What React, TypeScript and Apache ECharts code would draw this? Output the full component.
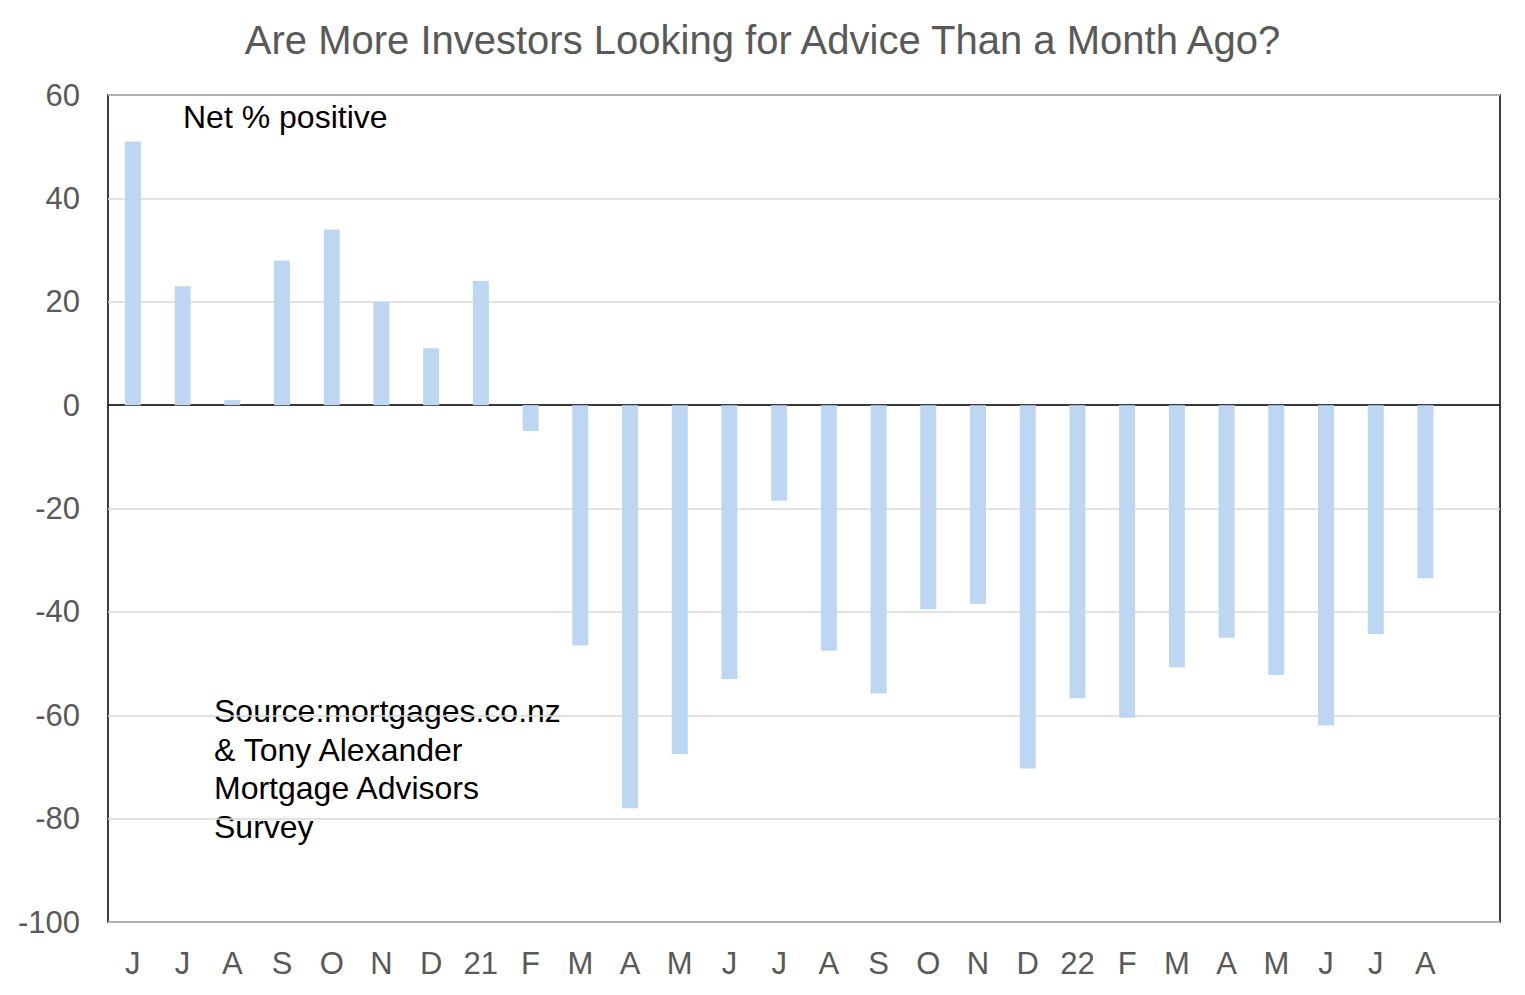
import React, { useEffect, useRef } from "react";
import * as echarts from "echarts";

const categories = ["J", "J", "A", "S", "O", "N", "D", "21", "F", "M", "A", "M", "J", "J", "A", "S", "O", "N", "D", "22", "F", "M", "A", "M", "J", "J", "A"];
const netPositive = [51, 23, 1, 28, 34, 20, 11, 24, -5, -46.5, -78, -67.5, -53, -18.5, -47.5, -55.8, -39.5, -38.5, -70.3, -56.7, -60.5, -50.7, -45, -52.2, -62, -44.3, -33.5];
const yTicks = { min: -100, max: 60, interval: 20 };
const titleText = "Are More Investors Looking for Advice Than a Month Ago?";
const noteText = "Net % positive";
const sourceLines = ["Source:mortgages.co.nz", "& Tony Alexander", "Mortgage Advisors", "Survey"];

export default function App() {
  const ref = useRef<HTMLDivElement>(null);
  useEffect(() => {
    if (!ref.current) return;
    const chart = echarts.init(ref.current, null, { renderer: "svg" });
    const font = "'Liberation Sans', Arial, sans-serif";
    chart.setOption({
      animation: false,
      backgroundColor: "#ffffff",
      title: {
        text: titleText,
        left: "center",
        top: 15,
        textStyle: { color: "#595959", fontSize: 40, fontWeight: "normal", fontFamily: font },
      },
      grid: {
        left: 108,
        top: 95,
        width: 1392,
        height: 827,
        show: true,
        borderColor: "#000000",
        borderWidth: 1.5,
        backgroundColor: "transparent",
      },
      xAxis: {
        type: "category",
        data: categories.concat([""]).slice(0, 28),
        axisLine: { show: true, onZero: true, lineStyle: { color: "#000000", width: 1.5 } },
        axisTick: { show: false },
        axisLabel: {
          color: "#595959",
          fontSize: 31,
          fontFamily: font,
          margin: 26,
          interval: 0,
        },
        splitLine: { show: false },
      },
      yAxis: {
        type: "value",
        min: yTicks.min,
        max: yTicks.max,
        interval: yTicks.interval,
        axisLine: { show: false },
        axisTick: { show: false },
        axisLabel: { color: "#595959", fontSize: 31, fontFamily: font, margin: 28 },
        splitLine: { show: true, lineStyle: { color: "#d9d9d9", width: 1.5 } },
      },
      series: [
        {
          type: "bar",
          data: netPositive,
          barWidth: 16,
          itemStyle: { color: "#bdd7f3" },
        },
      ],
      graphic: [
        {
          type: "text",
          left: 183,
          top: 101,
          style: { text: noteText, fill: "#000000", fontSize: 32, fontFamily: font },
        },
        {
          type: "text",
          left: 214,
          top: 692,
          style: {
            text: sourceLines.join("\n"),
            fill: "#000000",
            fontSize: 32,
            lineHeight: 38.5,
            fontFamily: font,
          },
        },
      ],
    });
    return () => chart.dispose();
  }, []);
  return <div ref={ref} style={{ position: "fixed", left: 0, top: 0, width: 1525, height: 995 }} />;
}
